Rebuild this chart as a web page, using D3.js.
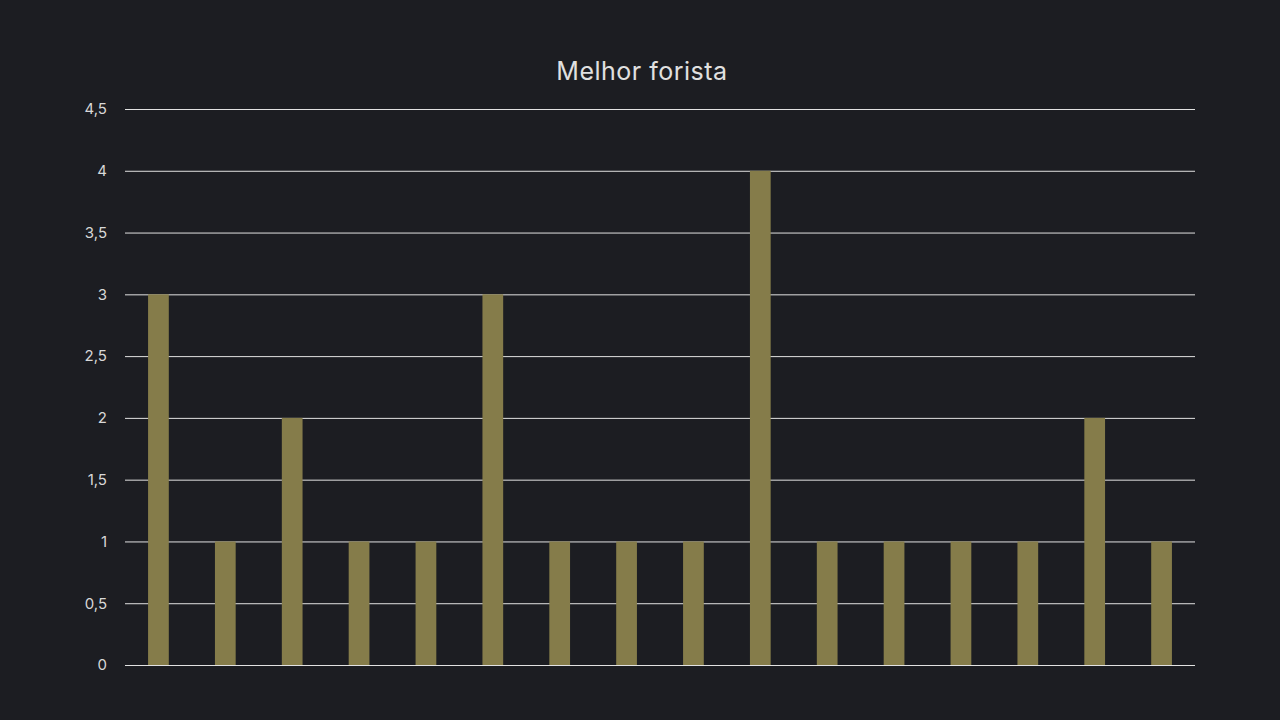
<!DOCTYPE html>
<html>
<head>
<meta charset="utf-8">
<title>Melhor forista</title>
<script src="https://cdn.jsdelivr.net/npm/d3@7"></script>
<style>
  html, body { margin: 0; padding: 0; background: #1c1d22; }
  svg { display: block; }
</style>
</head>
<body>
<script>
  // data
  var categories = ["A", "B", "C", "D", "E", "F", "G", "H", "I", "J", "K", "L", "M", "N", "O", "P"];
  var values = [3, 1, 2, 1, 1, 3, 1, 1, 1, 4, 1, 1, 1, 1, 2, 1];
  var yTicks = [0, 0.5, 1, 1.5, 2, 2.5, 3, 3.5, 4, 4.5];
  var title = "Melhor forista";

  var w = 1280, h = 720;
  var plotLeft = 125, plotRight = 1195, plotTop = 109, plotBottom = 665;

  var svg = d3.select("body").append("svg")
    .attr("width", w)
    .attr("height", h);

  svg.append("rect")
    .attr("width", w)
    .attr("height", h)
    .attr("fill", "#1c1d22");

  var x = d3.scaleBand()
    .domain(categories)
    .range([plotLeft, plotRight])
    .paddingInner(0.69)
    .paddingOuter(0.345);

  var y = d3.scaleLinear()
    .domain([0, 4.5])
    .range([plotBottom, plotTop]);

  var fmt = function(d) { return String(d).replace(".", ","); };

  // gridlines + tick labels
  var yAxis = svg.append("g")
    .attr("transform", "translate(" + plotLeft + ",0)")
    .call(d3.axisLeft(y)
      .tickValues(yTicks)
      .tickSize(-(plotRight - plotLeft))
      .tickPadding(18)
      .tickFormat(fmt));

  yAxis.select(".domain").remove();
  yAxis.selectAll(".tick line")
    .attr("stroke", "#e2e2e2")
    .attr("stroke-width", 1);
  yAxis.selectAll(".tick text")
    .attr("fill", "#d8d8d8")
    .attr("font-family", "Inter, 'Open Sans', sans-serif")
    .attr("font-size", 15);

  // bars
  svg.append("g")
    .selectAll("rect")
    .data(values)
    .enter()
    .append("rect")
    .attr("x", function(d, i) { return x(categories[i]); })
    .attr("y", function(d) { return y(d); })
    .attr("width", x.bandwidth())
    .attr("height", function(d) { return y(0) - y(d); })
    .attr("fill", "#857c4a");

  // title
  svg.append("text")
    .attr("x", 642)
    .attr("y", 80)
    .attr("text-anchor", "middle")
    .attr("fill", "#e0e0e0")
    .attr("font-family", "Inter, 'Open Sans', sans-serif")
    .attr("font-size", 25)
    .attr("letter-spacing", 0.5)
    .text(title);
</script>
</body>
</html>
